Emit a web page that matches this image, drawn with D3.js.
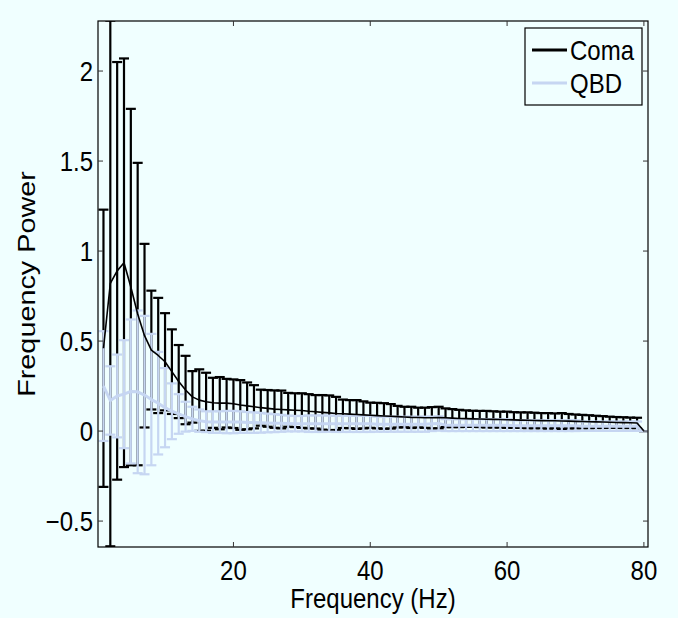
<!DOCTYPE html>
<html>
<head>
<meta charset="utf-8">
<script src="https://cdn.jsdelivr.net/npm/d3@7"></script>
<style>
  body { margin: 0; background: #f0ffff; }
  text { font-family: "Liberation Sans", Arial, sans-serif; fill: #000; }
</style>
</head>
<body>
<div id="chart"></div>
<script>
// frequencies 1..80 Hz
const freqs = d3.range(1, 81);

const comaMean = [0.46, 0.82, 0.89, 0.935, 0.80, 0.65, 0.53, 0.45, 0.42, 0.385,
  0.33, 0.275, 0.228, 0.19, 0.172, 0.163, 0.157, 0.155, 0.155, 0.152,
  0.145, 0.14, 0.135, 0.13, 0.126, 0.122, 0.12, 0.118, 0.116, 0.114,
  0.11, 0.107, 0.104, 0.101, 0.098, 0.096, 0.094, 0.092, 0.09, 0.088,
  0.086, 0.084, 0.082, 0.08, 0.078, 0.076, 0.075, 0.074, 0.074, 0.075,
  0.074, 0.072, 0.07, 0.069, 0.068, 0.067, 0.066, 0.065, 0.064, 0.063,
  0.062, 0.061, 0.06, 0.059, 0.058, 0.057, 0.057, 0.056, 0.055, 0.054,
  0.053, 0.052, 0.051, 0.05, 0.049, 0.048, 0.047, 0.046, 0.045, 0];

const comaStd = [0.77, 1.46, 1.16, 1.135, 0.99, 0.84, 0.51, 0.33, 0.32, 0.27,
  0.235, 0.203, 0.19, 0.143, 0.171, 0.161, 0.139, 0.145, 0.135, 0.135,
  0.138, 0.13, 0.12, 0.10, 0.102, 0.104, 0.105, 0.094, 0.094, 0.096,
  0.095, 0.093, 0.096, 0.097, 0.092, 0.079, 0.078, 0.08, 0.075, 0.07,
  0.071, 0.071, 0.068, 0.06, 0.057, 0.059, 0.055, 0.056, 0.059, 0.06,
  0.052, 0.05, 0.048, 0.046, 0.045, 0.045, 0.046, 0.045, 0.044, 0.045,
  0.043, 0.043, 0.044, 0.043, 0.042, 0.043, 0.041, 0.044, 0.04, 0.038,
  0.037, 0.036, 0.034, 0.033, 0.031, 0.03, 0.03, 0.029, 0.029, 0];

const qbdMean = [0.25, 0.17, 0.195, 0.205, 0.22, 0.218, 0.2, 0.175, 0.155, 0.13,
  0.11, 0.095, 0.08, 0.068, 0.058, 0.052, 0.05, 0.05, 0.05, 0.05,
  0.05, 0.048, 0.047, 0.046, 0.045, 0.044, 0.043, 0.042, 0.041, 0.041,
  0.041, 0.041, 0.041, 0.041, 0.040, 0.040, 0.040, 0.040, 0.040, 0.040,
  0.038, 0.038, 0.038, 0.038, 0.038, 0.038, 0.038, 0.038, 0.04, 0.042,
  0.033, 0.033, 0.033, 0.033, 0.033, 0.033, 0.033, 0.033, 0.033, 0.033,
  0.03, 0.03, 0.03, 0.03, 0.03, 0.03, 0.03, 0.03, 0.03, 0.03,
  0.027, 0.027, 0.027, 0.027, 0.027, 0.027, 0.027, 0.027, 0.027, 0];

const qbdStd = [0.305, 0.19, 0.23, 0.3, 0.4, 0.452, 0.44, 0.365, 0.285, 0.22,
  0.155, 0.11, 0.083, 0.067, 0.062, 0.058, 0.06, 0.06, 0.062, 0.062,
  0.06, 0.058, 0.057, 0.055, 0.052, 0.05, 0.047, 0.044, 0.043, 0.043,
  0.046, 0.046, 0.046, 0.045, 0.045, 0.045, 0.045, 0.045, 0.045, 0.045,
  0.042, 0.042, 0.042, 0.042, 0.042, 0.042, 0.042, 0.042, 0.04, 0.04,
  0.033, 0.033, 0.033, 0.033, 0.033, 0.033, 0.033, 0.033, 0.033, 0.033,
  0.03, 0.03, 0.03, 0.03, 0.03, 0.03, 0.03, 0.03, 0.03, 0.03,
  0.026, 0.026, 0.026, 0.026, 0.026, 0.026, 0.026, 0.026, 0.026, 0];

const xTicks = [20, 40, 60, 80];
const yTicks = [-0.5, 0, 0.5, 1, 1.5, 2];
const yTickLabels = ["\u22120.5", "0", "0.5", "1", "1.5", "2"];
const seriesNames = ["Coma", "QBD"];
const seriesColors = ["#000000", "#c6d6f2"];

const width = 678, height = 618;
const bg = "#f0ffff";

const svg = d3.select("#chart").append("svg")
  .attr("width", width)
  .attr("height", height);

svg.append("rect").attr("width", width).attr("height", height).attr("fill", bg);

const x = d3.scaleLinear().domain([0.2, 80.6]).range([98, 648]);
const y = d3.scaleLinear().domain([-0.644, 2.278]).range([547, 21]);

svg.append("clipPath").attr("id", "plotclip")
  .append("rect")
  .attr("x", 98).attr("y", 21)
  .attr("width", 550).attr("height", 526);

const plot = svg.append("g").attr("clip-path", "url(#plotclip)");

const capHalf = 5;

function drawBars(mean, std, color, sw) {
  const data = freqs.map((f, i) => ({ f, m: mean[i], s: std[i] }));
  const g = plot.append("g").attr("stroke", color).attr("stroke-width", sw).attr("fill", "none");
  g.selectAll(".v").data(data).enter().append("line")
    .attr("x1", d => x(d.f)).attr("x2", d => x(d.f))
    .attr("y1", d => y(d.m - d.s)).attr("y2", d => y(d.m + d.s));
  g.selectAll(".top").data(data).enter().append("line")
    .attr("x1", d => x(d.f) - capHalf).attr("x2", d => x(d.f) + capHalf)
    .attr("y1", d => y(d.m + d.s)).attr("y2", d => y(d.m + d.s));
  g.selectAll(".bot").data(data).enter().append("line")
    .attr("x1", d => x(d.f) - capHalf).attr("x2", d => x(d.f) + capHalf)
    .attr("y1", d => y(d.m - d.s)).attr("y2", d => y(d.m - d.s));
}

function drawLine(mean, color, sw) {
  const line = d3.line().x((d, i) => x(freqs[i])).y(d => y(d));
  plot.append("path")
    .attr("d", line(mean))
    .attr("fill", "none")
    .attr("stroke", color)
    .attr("stroke-width", sw)
    .attr("stroke-linejoin", "round");
}

drawBars(comaMean, comaStd, seriesColors[0], 2.2);
drawBars(qbdMean, qbdStd, seriesColors[1], 2.2);
drawLine(qbdMean, seriesColors[1], 3);
drawLine(comaMean, seriesColors[0], 1.6);

// axes box
const axes = svg.append("g");
axes.append("rect")
  .attr("x", 98).attr("y", 21).attr("width", 550).attr("height", 526)
  .attr("fill", "none").attr("stroke", "#000").attr("stroke-width", 1.2);

// ticks, pointing inwards on all four sides
const tickLen = 5;
xTicks.forEach(t => {
  axes.append("line").attr("x1", x(t)).attr("x2", x(t)).attr("y1", 547).attr("y2", 547 - tickLen)
    .attr("stroke", "#333");
  axes.append("line").attr("x1", x(t)).attr("x2", x(t)).attr("y1", 21).attr("y2", 21 + tickLen)
    .attr("stroke", "#333");
  axes.append("text")
    .attr("transform", `translate(${x(t)},580) scale(1,1.15)`)
    .attr("text-anchor", "middle")
    .style("font-size", "24px")
    .text(t);
});
yTicks.forEach((t, i) => {
  axes.append("line").attr("x1", 98).attr("x2", 98 + tickLen).attr("y1", y(t)).attr("y2", y(t))
    .attr("stroke", "#333");
  axes.append("line").attr("x1", 648).attr("x2", 648 - tickLen).attr("y1", y(t)).attr("y2", y(t))
    .attr("stroke", "#333");
  axes.append("text")
    .attr("transform", `translate(93,${y(t)}) scale(1,1.15)`)
    .attr("text-anchor", "end")
    .attr("dy", "0.36em")
    .style("font-size", "24px")
    .text(yTickLabels[i]);
});

// axis titles
svg.append("text")
  .attr("transform", "translate(373,608) scale(1,1.15)")
  .attr("text-anchor", "middle")
  .style("font-size", "24px")
  .text("Frequency (Hz)");

svg.append("text")
  .attr("transform", "translate(35,284) rotate(-90) scale(1.2,1)")
  .attr("text-anchor", "middle")
  .style("font-size", "24px")
  .text("Frequency Power");

// legend
const legend = svg.append("g");
legend.append("rect")
  .attr("x", 525).attr("y", 28).attr("width", 117).attr("height", 77)
  .attr("fill", bg).attr("stroke", "#000").attr("stroke-width", 1.2);
seriesNames.forEach((name, i) => {
  const ly = 50 + i * 33;
  legend.append("line")
    .attr("x1", 532).attr("x2", 567).attr("y1", ly).attr("y2", ly)
    .attr("stroke", seriesColors[i]).attr("stroke-width", 3);
  legend.append("text")
    .attr("transform", `translate(570,${ly + 10}) scale(1,1.15)`)
    .style("font-size", "24px")
    .text(name);
});
</script>
</body>
</html>
